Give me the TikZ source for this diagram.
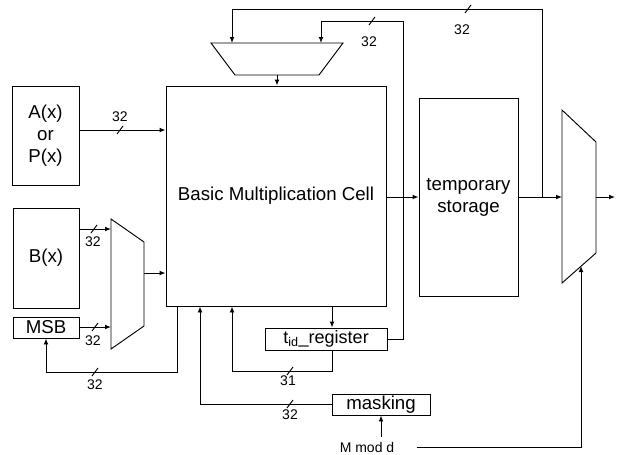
\documentclass[tikz,border=0pt]{standalone}
\usepackage{fontspec}
\setmainfont{Liberation Sans}
\usetikzlibrary{arrows.meta}

\begin{document}
\begin{tikzpicture}[
  x=0.75pt, y=-0.75pt,
  line width=0.7pt,
  box/.style={draw, align=center, inner sep=0pt, font=\fontsize{14}{16.5}\selectfont},
  arrow/.style={-{Latex[length=4.5pt,width=3.6pt]}},
  buslabel/.style={font=\fontsize{10.5}{12}\selectfont, inner sep=1pt},
  busmark/.pic={\draw (-3,4) -- (3,-4);}
]
\useasboundingbox (0,0) rectangle (620,454);

% blocks
\node[box, minimum width=50.25pt, minimum height=74.25pt] (ax) at (45.5,135.5) {A(x)\\or\\P(x)};
\node[box, minimum width=49.5pt, minimum height=75pt] (bx) at (46,258) {B(x)};
\node[box, minimum width=49.5pt, minimum height=15.75pt] (msb) at (46,327.5) {MSB};
\node[box, minimum width=165pt, minimum height=165pt] (bmc) at (276,196) {Basic Multiplication Cell};
\node[box, minimum width=74.25pt, minimum height=148.5pt] (temp) at (468.5,197) {temporary\\storage};
\node[box, minimum width=91.5pt, minimum height=16.5pt, font=\fontsize{13.5}{16}\selectfont] (tid) at (326,339) {t\textsubscript{id}\_register};
\node[box, minimum width=73.5pt, minimum height=15.75pt] (mask) at (381,404.5) {masking};
\node[font=\fontsize{10.5}{12}\selectfont] (mmod) at (367,447) {M mod d};

% multiplexers
\draw (111,219) -- (144,242) -- (144,326) -- (111,349) -- cycle;
\coordinate (lin1) at (111,229);
\coordinate (lin2) at (111,327);
\coordinate (lout) at (144,273);
\draw (211,43) -- (343,43) -- (319,75) -- (235,75) -- cycle;
\coordinate (tin1) at (232,43);
\coordinate (tin2) at (321,43);
\coordinate (tout) at (277,75);
\draw (562,110) -- (596,142) -- (596,253) -- (562,283) -- cycle;
\coordinate (rin) at (562,197);
\coordinate (rout) at (596,197);
\coordinate (rsel) at (581,266);

\coordinate (split) at (542,197);
\coordinate (outertop) at (542,9);
\coordinate (innertop) at (403,21);

% connections
\draw[arrow] (ax.east |- 0,130) -- (bmc.west |- 0,130);
\draw[arrow] (bx.east |- lin1) -- (lin1);
\draw[arrow] (msb.east |- lin2) -- (lin2);
\draw[arrow] (lout) -- (bmc.west |- lout);
\draw[arrow] (bmc.south -| 177,0) -- ++(0,66) -| (msb.south);
\draw[arrow] (mask.west) -| (bmc.south -| 200,0);
\draw[arrow] (bmc.south -| 332,0) -- (tid.north -| 332,0);
\draw[arrow] (tid.south -| 332,0) -- ++(0,21) -| (bmc.south -| 232,0);
\draw[arrow] (tid.east) -| (innertop) -| (tin2);
\draw[arrow] (bmc.east |- 0,197) -- (temp.west |- 0,197);
\draw[arrow] (temp.east |- rin) -- (rin);
\draw[arrow] (split) -- (outertop) -| (tin1);
\draw[arrow] (tout) -- (bmc.north -| tout);
\draw[arrow] (rout) -- ++(19,0);
\draw[arrow] (mmod.north -| mask.south) -- (mask.south);
\draw[arrow] ([xshift=13.5pt]mmod.east) -| (rsel);

% bus widths
\pic at (120,130) {busmark};
\node[buslabel] (wa) at (120,117) {32};
\pic at (94,229) {busmark};
\node[buslabel] (wb) at (93,242) {32};
\pic at (95,327) {busmark};
\node[buslabel] (wm) at (93,341) {32};
\pic at (95,372) {busmark};
\node[buslabel] (wf) at (95,385) {32};
\pic at (290,371) {busmark};
\node[buslabel] (wt) at (288,381) {31};
\pic at (290,404) {busmark};
\node[buslabel] (wk) at (290,415) {32};
\pic at (372,21) {busmark};
\node[buslabel] (wi) at (369,42) {32};
\pic at (468,9) {busmark};
\node[buslabel] (wo) at (462,30) {32};
\end{tikzpicture}
\end{document}
